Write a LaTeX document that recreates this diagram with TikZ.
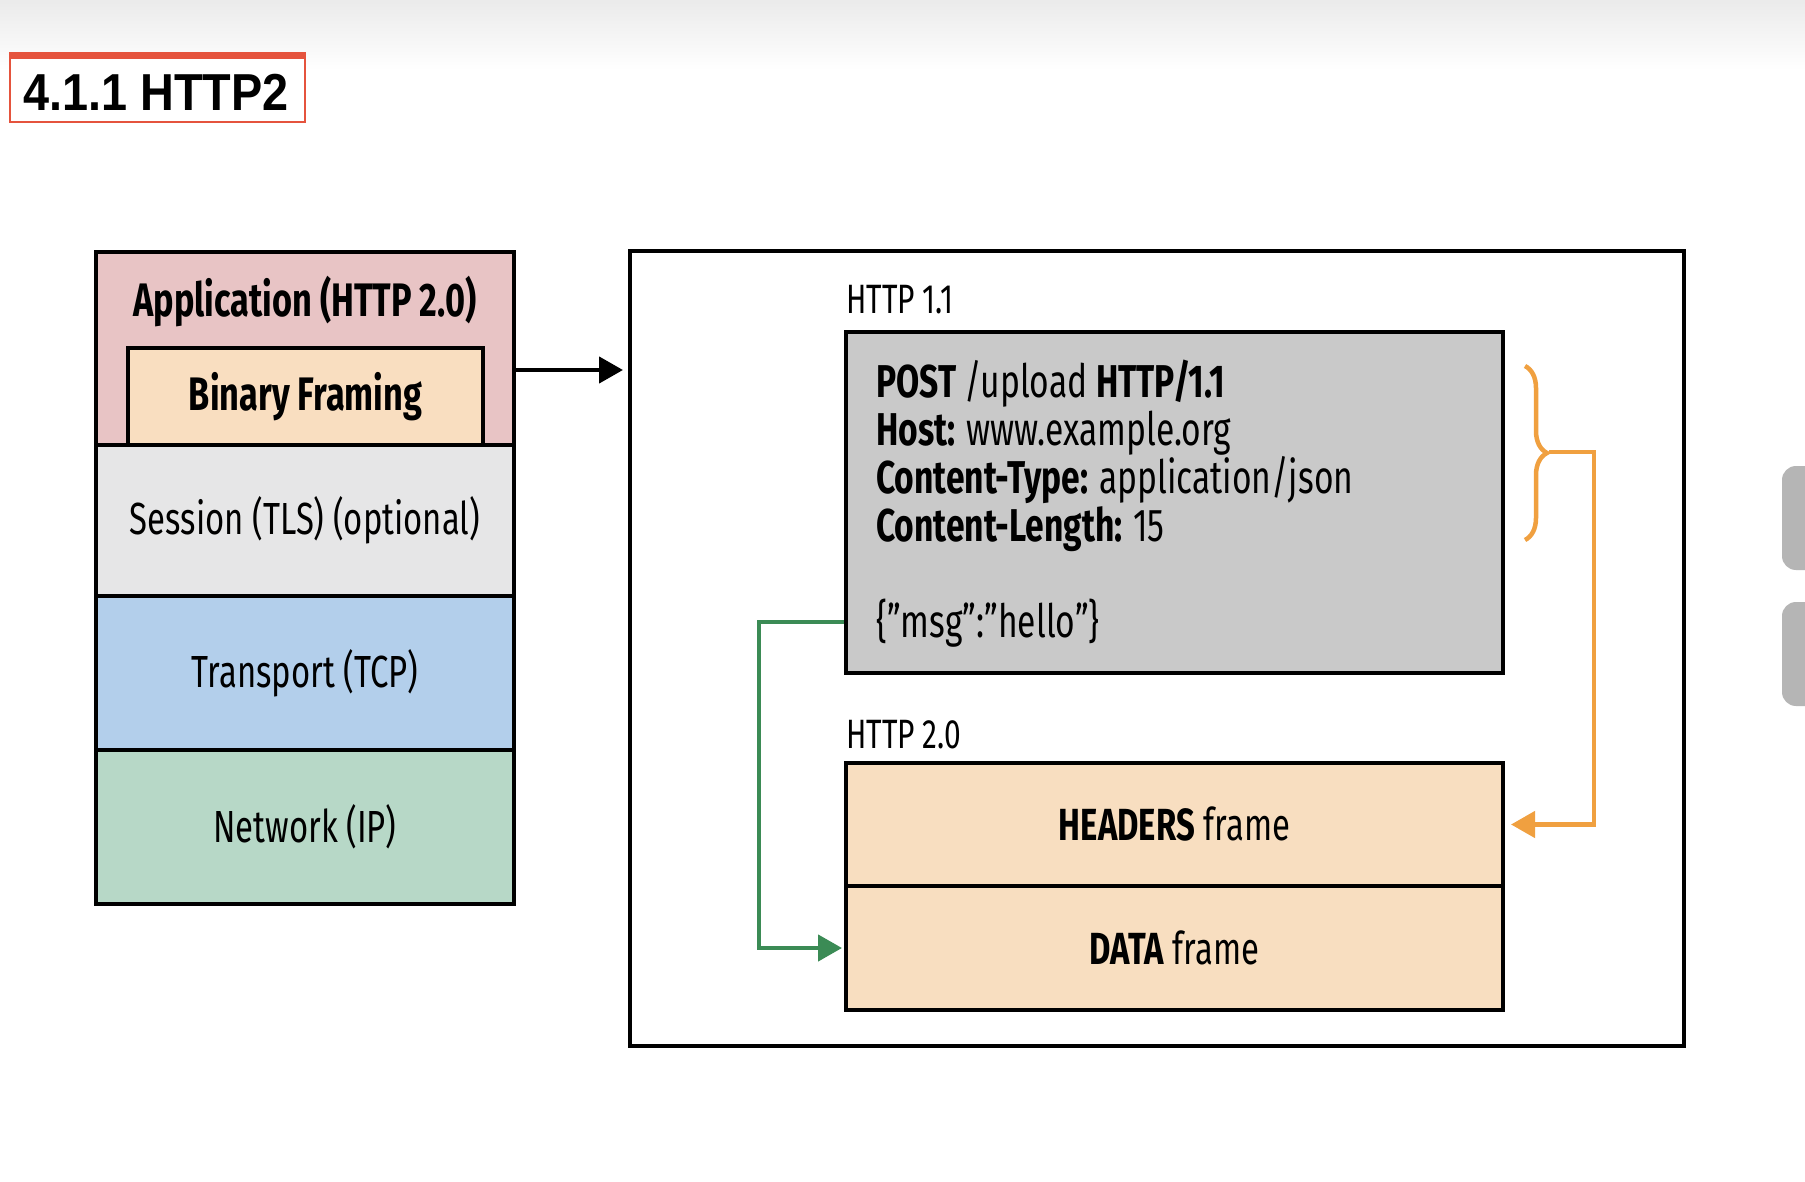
\documentclass[tikz,border=0pt]{standalone}
\usepackage{fontspec}
\setmainfont{Fira Sans}[FakeStretch=0.73]
\newfontfamily\titlefont{Liberation Sans}[FakeStretch=0.9]
\usetikzlibrary{arrows.meta,decorations.pathreplacing,calc}

\definecolor{appfill}{HTML}{E8C4C5}
\definecolor{framingfill}{HTML}{F9DEC0}
\definecolor{sessionfill}{HTML}{E6E6E7}
\definecolor{transportfill}{HTML}{B3CFEB}
\definecolor{networkfill}{HTML}{B7D8C7}
\definecolor{msgfill}{HTML}{C9C9C9}
\definecolor{framefill}{HTML}{F8DEC0}
\definecolor{linkgreen}{HTML}{3B8B55}
\definecolor{linkorange}{HTML}{F0A040}
\definecolor{titlered}{HTML}{E5533D}
\definecolor{tabgray}{HTML}{B5B5B5}

\tikzset{
  box/.style={draw=black, line width=4pt, inner sep=0pt},
  boldtext/.style={font=\bfseries\fontsize{47}{50}\selectfont},
  midtext/.style={font=\fontsize{45}{48}\selectfont},
  smalltext/.style={font=\fontsize{41}{44}\selectfont},
  bodyline/.style={font=\fontsize{46}{48}\selectfont, anchor=base west, inner sep=0pt},
  flowarrow/.style={line width=4.5pt, -{Triangle[length=24pt,width=26pt]}},
}

\begin{document}
\begin{tikzpicture}[x=1pt,y=-1pt]
\useasboundingbox (0,0) rectangle (1805,1182);
\fill[white] (0,0) rectangle (1805,1182);
\shade[top color=black!8, bottom color=white] (0,0) rectangle (1805,70);

% heading
\draw[titlered, line width=2pt, fill=white] (10,55) rectangle (305,122);
\fill[titlered] (9,52) rectangle (306,59);
\node[font=\titlefont\bfseries\fontsize{52}{56}\selectfont, inner sep=0pt] (title) at (156,92) {4.1.1 HTTP2};

% protocol stack
\node[box, fill=appfill, minimum width=418pt, minimum height=193pt] (app) at (305,348.5) {};
\node[boldtext] (apptext) at (305,302) {Application (HTTP 2.0)};
\node[box, fill=framingfill, minimum width=355pt, minimum height=97pt, boldtext] (framing) at (305.5,396.5) {Binary Framing};
\node[box, fill=sessionfill, minimum width=418pt, minimum height=151pt, midtext] (session) at (305,520.5) {Session (TLS) (optional)};
\node[box, fill=transportfill, minimum width=418pt, minimum height=154pt, midtext] (transport) at (305,673) {Transport (TCP)};
\node[box, fill=networkfill, minimum width=418pt, minimum height=154pt, midtext] (network) at (305,827) {Network (IP)};

% framing panel
\node[box, fill=white, minimum width=1054pt, minimum height=795pt] (panel) at (1157,648.5) {};
\coordinate (arrowrow) at (0,370);
\draw[flowarrow, shorten >=5pt] (app.east |- arrowrow) -- (panel.west |- arrowrow);

% HTTP/1.1 request
\node[smalltext, anchor=base west, inner sep=0pt] (h11) at (846,314) {HTTP 1.1};
\node[box, fill=msgfill, minimum width=657pt, minimum height=341pt] (msg) at (1174.5,502.5) {};
\node[bodyline] (l1) at (876,397) {\bfseries POST \mdseries/upload \bfseries HTTP/1.1};
\node[bodyline] (l2) at (876,445) {\bfseries Host: \mdseries www.example.org};
\node[bodyline] (l3) at (876,493) {\bfseries Content-Type: \mdseries application/json};
\node[bodyline] (l4) at (876,541) {\bfseries Content-Length: \mdseries 15};
\node[bodyline] (body) at (876,637) {\{”msg”:”hello”\}};

% HTTP/2.0 frames
\node[smalltext, anchor=base west, inner sep=0pt] (h20) at (846,748) {HTTP 2.0};
\node[box, fill=framefill, minimum width=657pt, minimum height=123pt, midtext] (headers) at (1174.5,824.5) {\bfseries HEADERS\mdseries\ frame};
\node[box, fill=framefill, minimum width=657pt, minimum height=124pt, midtext] (data) at (1174.5,948) {\bfseries DATA\mdseries\ frame};

% header lines become the HEADERS frame
\draw[linkorange, line width=4.5pt, decorate, decoration={brace, amplitude=22pt}] (1525,366) -- (1525,540);
\coordinate (bracetip) at (1549,452);
\coordinate (orangerail) at (1594,0);
\draw[linkorange, flowarrow, shorten >=6pt] (bracetip) -| (orangerail |- headers.east) -- (headers.east);

% payload becomes the DATA frame
\coordinate (greenrail) at (759,0);
\coordinate (bodyrow) at (0,622);
\draw[linkgreen, flowarrow, shorten >=2pt] (msg.west |- bodyrow) -| (greenrail |- data.west) -- (data.west);

% side tabs
\begin{scope}
\clip (0,0) rectangle (1805,1182);
\fill[tabgray, rounded corners=14pt] (1782,466) rectangle (1830,570);
\fill[tabgray, rounded corners=14pt] (1782,602) rectangle (1830,706);
\end{scope}
\end{tikzpicture}
\end{document}
